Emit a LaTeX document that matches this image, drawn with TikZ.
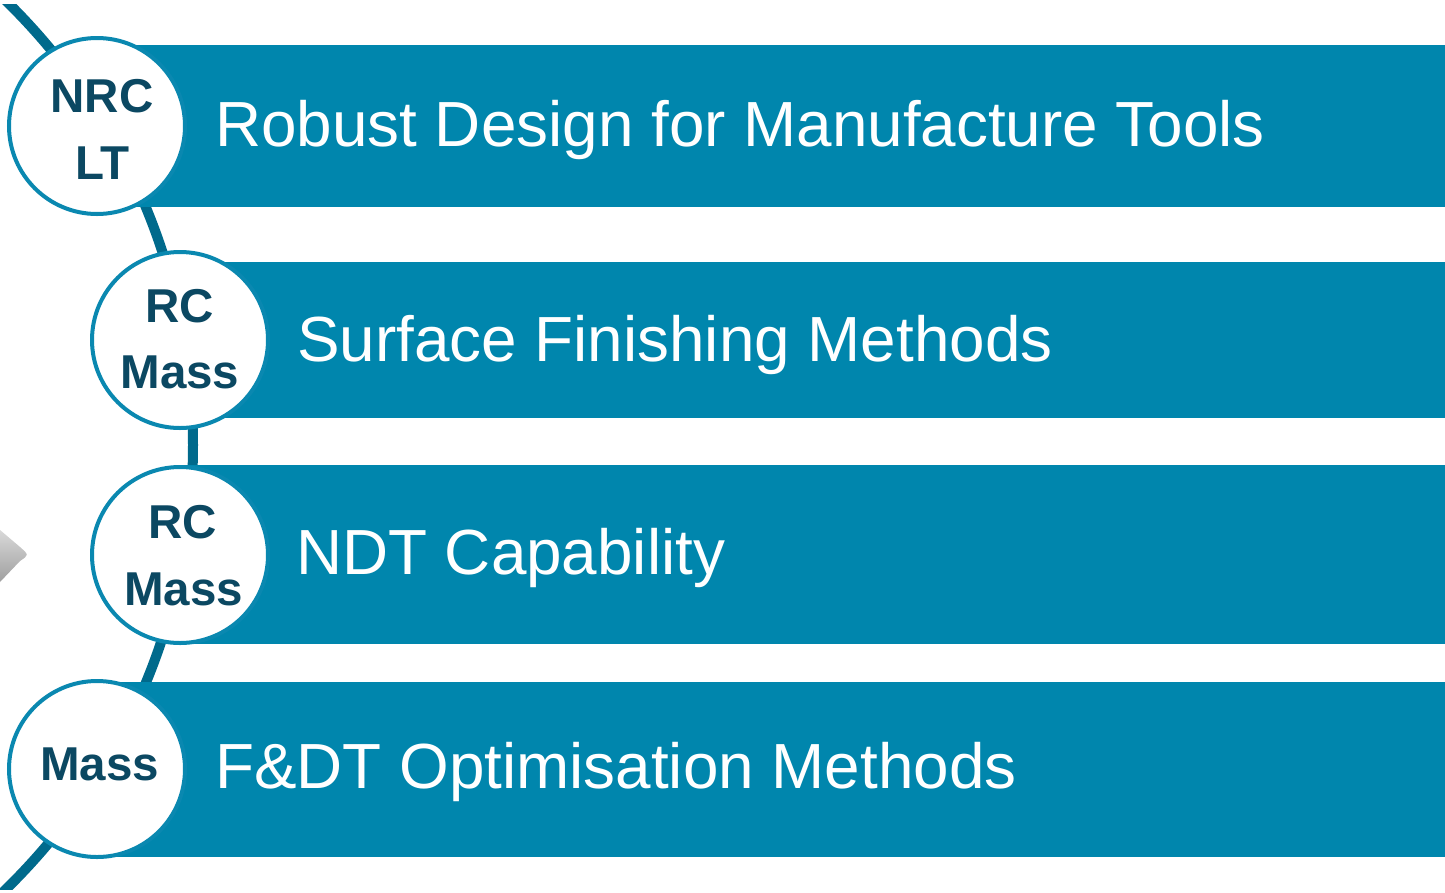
\documentclass[tikz,border=0pt]{standalone}
\usepackage{fontspec}
\setmainfont{Liberation Sans}
\definecolor{bandblue}{HTML}{0086AD}
\definecolor{ringblue}{HTML}{0A88B0}
\definecolor{connblue}{HTML}{006A8C}
\definecolor{navy}{HTML}{0B4862}
\tikzset{
  band/.style={fill=bandblue},
  bub/.style={circle, draw=ringblue, line width=4pt, fill=white, minimum size=176pt, inner sep=0pt},
  ctext/.style={anchor=base, inner sep=0pt, text=navy, font=\fontsize{47.5}{57}\selectfont\bfseries},
  btext/.style={anchor=base west, inner sep=0pt, text=white, font=\fontsize{63.8}{77}\selectfont},
  conn/.style={draw=connblue, line width=10pt}
}
\begin{document}
\begin{tikzpicture}[x=1pt,y=-1pt]
\useasboundingbox (0,0) rectangle (1445,892);
\fill[white] (0,0) rectangle (1445,892);
% faint photo fragment at left edge
\shade[top color=gray!30, bottom color=gray!75] (0,530) -- (20,547) .. controls (29,555) .. (20,561) -- (0,582) -- cycle;
% background arc linking the circles
\begin{scope}
\clip (0,4) rectangle (400,889);
\draw[conn] (-428,445) circle[radius=621];
\end{scope}
% bands
\fill[band] (97,45) rectangle (1445,207);
\fill[band] (180,262) rectangle (1445,418);
\fill[band] (180,465) rectangle (1445,644);
\fill[band] (97,682) rectangle (1445,857);
% circles
\node[bub] (c1) at (97,126) {};
\node[bub] (c2) at (180,340) {};
\node[bub] (c3) at (180,555) {};
\node[bub] (c4) at (97,769) {};
% circle labels
\node[ctext] (l1a) at (102,112) {NRC};
\node[ctext] (l1b) at (102.5,179) {LT};
\node[ctext] (l2a) at (180,322) {RC};
\node[ctext] (l2b) at (180,388) {Mass};
\node[ctext] (l3a) at (183,538) {RC};
\node[ctext] (l3b) at (183.5,605) {Mass};
\node[ctext] (l4) at (99.5,780) {Mass};
% band texts
\node[btext] (t1) at (215,146) {Robust Design for Manufacture Tools};
\node[btext] (t2) at (297,361) {Surface Finishing Methods};
\node[btext] (t3) at (296,574) {NDT Capability};
\node[btext] (t4) at (215,788) {F\&DT Optimisation Methods};
\end{tikzpicture}
\end{document}
